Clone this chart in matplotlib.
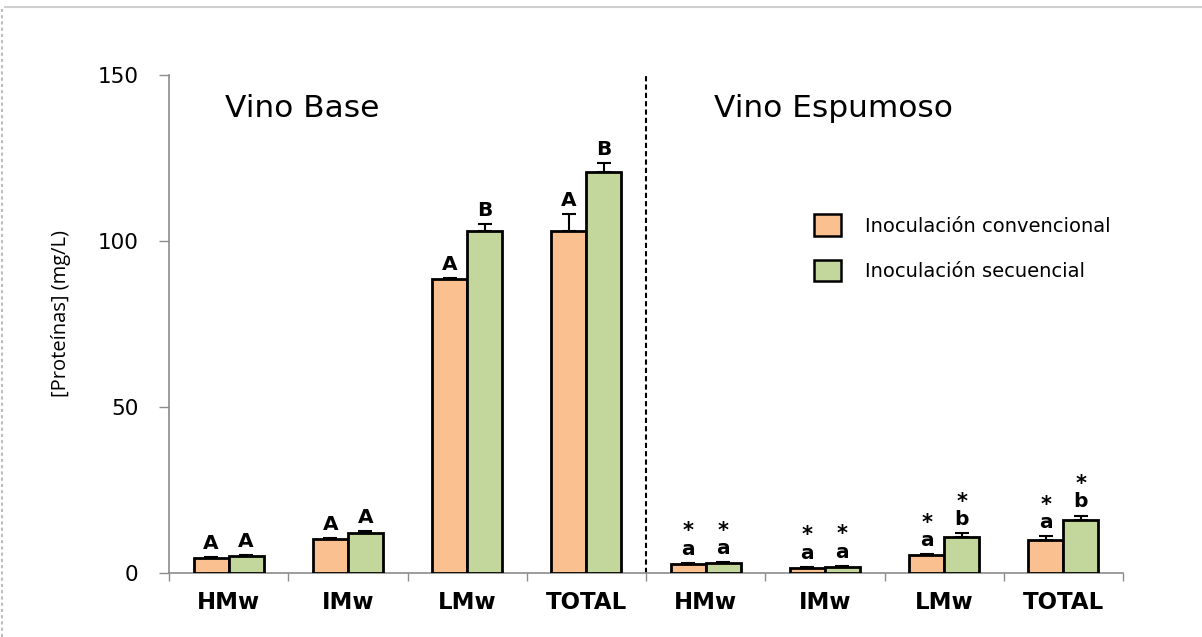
import numpy as np
import matplotlib
matplotlib.use("Agg")
import matplotlib.pyplot as plt
from matplotlib.patches import Patch
from matplotlib.lines import Line2D

# protein fractions, base wine then sparkling wine
categories = ["HMw", "IMw", "LMw", "TOTAL", "HMw", "IMw", "LMw", "TOTAL"]
conventional = [4.5, 10.2, 88.5, 103.0, 2.8, 1.6, 5.4, 9.9]
conventional_err = [0.3, 0.4, 0.4, 5.0, 0.2, 0.2, 0.3, 1.2]
sequential = [5.1, 12.0, 103.0, 120.8, 3.0, 1.9, 10.7, 16.0]
sequential_err = [0.2, 0.6, 2.0, 2.7, 0.2, 0.2, 1.2, 1.3]
conv_letters = ["A", "A", "A", "A", "a", "a", "a", "a"]
seq_letters = ["A", "A", "B", "B", "a", "a", "b", "b"]
starred = [False] * 4 + [True] * 4

orange = "#FAC090"
green = "#C3D69B"
grey = "#8C8C8C"

fig = plt.figure(figsize=(12.02, 6.37), dpi=100)
ax = fig.add_axes([0.1406, 0.1005, 0.7937, 0.7818])

x = np.arange(len(categories))
w = 0.293
ekw = dict(ecolor="black", elinewidth=1.5, capsize=5, capthick=1.5)
ax.bar(x - w / 2, conventional, w, color=orange, edgecolor="black", linewidth=2,
       yerr=[np.zeros(8), conventional_err], error_kw=ekw, zorder=3)
ax.bar(x + w / 2, sequential, w, color=green, edgecolor="black", linewidth=2,
       yerr=[np.zeros(8), sequential_err], error_kw=ekw, zorder=3)

# significance letters above each bar
for xs, vals, errs, letters in [(x - w / 2, conventional, conventional_err, conv_letters),
                                (x + w / 2, sequential, sequential_err, seq_letters)]:
    for xi, v, e, lt, st in zip(xs, vals, errs, letters, starred):
        ax.annotate(lt, (xi, v + e), xytext=(0, 3), textcoords="offset points",
                    ha="center", va="bottom", fontsize=14.5, fontweight="bold")
        if st:
            ax.annotate("*", (xi, v + e), xytext=(0, 15.5), textcoords="offset points",
                        ha="center", va="bottom", fontsize=15, fontweight="bold")

ax.set_xlim(-0.5, 7.5)
ax.set_ylim(0, 150)
ax.set_yticks([0, 50, 100, 150])
ax.set_xticks(np.arange(-0.5, 8, 1))
ax.set_xticklabels([])
ax.tick_params(axis="x", length=6, width=1, color=grey, direction="out")
ax.tick_params(axis="y", length=7, width=1, color=grey, direction="out",
               labelsize=15.5, pad=15)
for xi, name in zip(x, categories):
    ax.text(xi, -9.0, name, ha="center", va="center", fontsize=16.5, fontweight="bold")

for s in ["top", "right"]:
    ax.spines[s].set_visible(False)
for s in ["left", "bottom"]:
    ax.spines[s].set_color(grey)
    ax.spines[s].set_linewidth(1.2)

ax.axvline(3.5, color="black", linestyle=(0, (2.5, 1.5)), linewidth=1.5, zorder=2)

ax.text(-0.03, 139.8, "Vino Base", fontsize=22.5, va="center")
ax.text(4.07, 139.8, "Vino Espumoso", fontsize=22.5, va="center")

ax.text(-0.113, 0.522, "[Proteínas] (mg/L)", transform=ax.transAxes, rotation=90,
        ha="center", va="center", fontsize=14.5, family="Open Sans")

handles = [Patch(facecolor=orange, edgecolor="black", linewidth=1.8),
           Patch(facecolor=green, edgecolor="black", linewidth=1.8)]
ax.legend(handles, ["Inoculación convencional", "Inoculación secuencial"],
          loc="upper left", bbox_to_anchor=(0.658, 0.755), frameon=False,
          prop={"size": 14}, handlelength=1.4, handleheight=1.3,
          handletextpad=1.2, labelspacing=1.25)

# light frame around the figure
fig.add_artist(Line2D([0.004, 1.0], [0.989, 0.989], color="#CFCFCF", linewidth=1.5))
fig.add_artist(Line2D([0.002, 0.002], [0.0, 0.989], color="#BDBDBD", linewidth=1.5,
                      linestyle=(0, (1.5, 1.5))))

fig.savefig("out.png", dpi=100, facecolor="white")
